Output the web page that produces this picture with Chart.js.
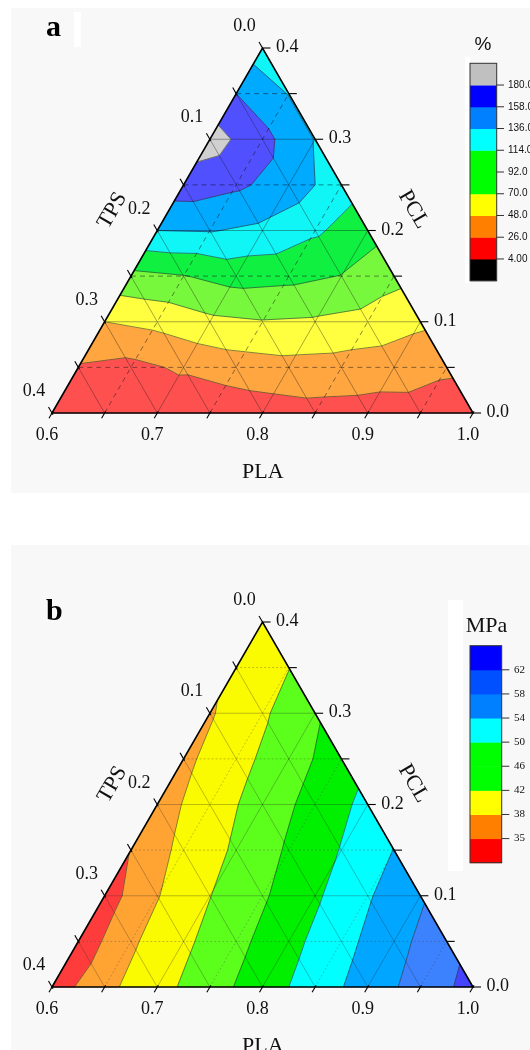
<!DOCTYPE html>
<html><head><meta charset="utf-8">
<script src="https://cdn.jsdelivr.net/npm/chart.js@4.4.1/dist/chart.umd.min.js"></script>
<style>
html,body{margin:0;padding:0;background:#fff;}
#wrap{position:relative;width:530px;height:1050px;overflow:hidden;}
canvas{position:absolute;left:0;}
</style></head><body>
<div id="wrap">
<canvas id="ca" width="530" height="525" style="top:0"></canvas>
<canvas id="cb" width="530" height="525" style="top:525px"></canvas>
</div>
<script>
// ---------- DATA ----------
// mesh rows: PCL = pclSteps[k]; within a row PLA = 0.60 + 0.05*m (TPS = 1 - PLA - PCL)
const pclSteps = [0, 0.05, 0.10, 0.15, 0.20, 0.25, 0.30, 0.35, 0.40];
const plaStart = 0.6, plaStep = 0.05;

// panel a: elongation at break (%)
const elongationRows = [
  [10, 12, 10, 9, 15.2, 18.8, 17.6, 17.9, 16],
  [24, 20.1, 29.3, 37.2, 40.9, 39.3, 35.8, 29.1],
  [48, 54.3, 65, 68.8, 67, 61.8, 52.4],
  [85.9, 91.1, 100.5, 98, 91.3, 76.5],
  [136, 137.2, 131.1, 117.5, 100],
  [170, 162, 148, 124],
  [190, 165, 135],
  [158, 135],
  [124]
];
const elongationLevels = [4, 26, 48, 70, 92, 114, 136, 158, 180];
const elongationBarLabels = ['4.00', '26.0', '48.0', '70.0', '92.0', '114.0', '136.0', '158.0', '180.0'];
const elongationFill = ['#000000', '#ff5050', '#ffa640', '#ffff40', '#78f83c', '#10f040', '#10f5f5', '#00aaff', '#5050ff', '#d0d0d0'];
const elongationBar = ['#000000', '#ff0000', '#ff8000', '#ffff00', '#00ff00', '#00ff00', '#00ffff', '#0080ff', '#0000ff', '#c0c0c0'];

// panel b: tensile strength (MPa)
const strengthRows = [
  [33.5, 37.0, 40.6, 44.3, 48.1, 51.9, 55.8, 59.6, 63.4],
  [33.1, 37.4, 41.2, 44.9, 48.8, 52.7, 56.7, 60.6],
  [33.6, 37.8, 41.9, 45.5, 49.4, 53.6, 57.5],
  [35.1, 38.9, 42.6, 46.5, 50.2, 54.1],
  [36.3, 40, 43.7, 47.4, 51.1],
  [37.1, 40.7, 44.3, 48],
  [37.6, 41.4, 45.5],
  [39, 41.9],
  [40]
];
const strengthLevels = [35, 38, 42, 46, 50, 54, 58, 62];
const strengthBarLabels = ['35', '38', '42', '46', '50', '54', '58', '62'];
const strengthFill = ['#ff3c3c', '#ffa333', '#fafa00', '#5cff1c', '#00f000', '#00ffff', '#00a6ff', '#3c82ff', '#4444ff'];
const strengthBar = ['#ff0000', '#ff8000', '#ffff00', '#00ff00', '#00ff00', '#00ffff', '#0080ff', '#0050ff', '#0000ff'];

// axis tick labels
const plaTickValues = [0.6, 0.7, 0.8, 0.9, 1.0];
const plaTickLabels = ['0.6', '0.7', '0.8', '0.9', '1.0'];
const tpsTickValues = [0, 0.1, 0.2, 0.3, 0.4];
const tpsTickLabels = ['0.0', '0.1', '0.2', '0.3', '0.4'];
const pclTickValues = [0, 0.1, 0.2, 0.3, 0.4];
const pclTickLabels = ['0.0', '0.1', '0.2', '0.3', '0.4'];
const minorStep = 0.05;

// ---------- GEOMETRY ----------
function ternXY(pla, pcl) {
  const wR = (pla - plaStart) / 0.4, wA = pcl / 0.4;
  return { x: wR + 0.5 * wA, y: wA };
}

function buildMesh(rows) {
  const grid = rows.map((row, k) => row.map((z, m) => {
    const p = ternXY(plaStart + plaStep * m, pclSteps[k]);
    return { x: p.x, y: p.y, z: z };
  }));
  const tris = [];
  for (let k = 0; k < rows.length - 1; k++) {
    const n = rows[k].length;
    for (let m = 0; m < n - 1; m++) tris.push([grid[k][m], grid[k][m + 1], grid[k + 1][m]]);
    for (let m = 0; m < n - 2; m++) tris.push([grid[k][m + 1], grid[k + 1][m + 1], grid[k + 1][m]]);
  }
  return { grid, tris };
}

function clip(poly, level, above) {
  const out = [];
  for (let i = 0; i < poly.length; i++) {
    const a = poly[i], b = poly[(i + 1) % poly.length];
    const ain = above ? a.z >= level : a.z <= level;
    const bin = above ? b.z >= level : b.z <= level;
    if (ain) out.push(a);
    if (ain !== bin) {
      const t = (level - a.z) / (b.z - a.z);
      out.push({ x: a.x + t * (b.x - a.x), y: a.y + t * (b.y - a.y), z: level });
    }
  }
  return out;
}

function makePanel(id, cfg) {
  const mesh = buildMesh(cfg.rows);
  const points = [];
  mesh.grid.forEach(r => r.forEach(n => points.push({ x: n.x, y: n.y })));

  const plugin = {
    id: 'ternary' + id,
    afterDraw(chart) {
      const ctx = chart.ctx, xs = chart.scales.x, ys = chart.scales.y;
      const P = (x, y) => [xs.getPixelForValue(x), ys.getPixelForValue(y)];
      const T = (pla, pcl) => { const d = ternXY(pla, pcl); return P(d.x, d.y); };
      ctx.save();
      // background
      ctx.fillStyle = '#ffffff'; ctx.fillRect(0, 0, 530, 525);
      ctx.fillStyle = '#f8f8f8';
      cfg.bg.forEach(r => ctx.fillRect(r[0], r[1], r[2], r[3]));
      ctx.fillStyle = '#ffffff';
      cfg.white.forEach(r => ctx.fillRect(r[0], r[1], r[2], r[3]));

      // filled bands
      const lv = cfg.levels;
      mesh.tris.forEach(tri => {
        for (let b = 0; b <= lv.length; b++) {
          let poly = tri;
          if (b > 0) poly = clip(poly, lv[b - 1], true);
          if (poly.length < 3) continue;
          if (b < lv.length) poly = clip(poly, lv[b], false);
          if (poly.length < 3) continue;
          ctx.beginPath();
          poly.forEach((q, i) => { const p = P(q.x, q.y); if (i) ctx.lineTo(p[0], p[1]); else ctx.moveTo(p[0], p[1]); });
          ctx.closePath();
          ctx.fillStyle = cfg.fill[b];
          ctx.fill();
          ctx.strokeStyle = cfg.fill[b]; ctx.lineWidth = 0.6; ctx.stroke();
        }
      });

      // contour lines
      ctx.strokeStyle = 'rgba(40,40,40,0.75)'; ctx.lineWidth = 0.75;
      lv.forEach(L => {
        mesh.tris.forEach(tri => {
          const pts = [];
          for (let i = 0; i < 3; i++) {
            const a = tri[i], b = tri[(i + 1) % 3];
            const za = a.z === L ? a.z + 1e-6 : a.z, zb = b.z === L ? b.z + 1e-6 : b.z;
            if ((za - L) * (zb - L) < 0) {
              const t = (L - za) / (zb - za);
              pts.push(P(a.x + t * (b.x - a.x), a.y + t * (b.y - a.y)));
            }
          }
          if (pts.length === 2) {
            ctx.beginPath(); ctx.moveTo(pts[0][0], pts[0][1]); ctx.lineTo(pts[1][0], pts[1][1]); ctx.stroke();
          }
        });
      });

      // grid
      const line = (a, b, dashed) => {
        ctx.beginPath();
        ctx.setLineDash(dashed ? cfg.dash : []);
        ctx.strokeStyle = dashed ? cfg.dashColor : cfg.gridColor;
        ctx.lineWidth = dashed ? cfg.dashWidth : 0.9;
        ctx.moveTo(a[0], a[1]); ctx.lineTo(b[0], b[1]); ctx.stroke();
      };
      for (let i = 1; i < 8; i++) {
        const v = i * minorStep, dashed = i % 2 === 1;
        line(T(plaStart, v), T(1 - v, v), dashed);              // PCL constant
        const p = plaStart + v;
        line(T(p, 0), T(p, 1 - p), dashed);                     // PLA constant
        line(T(1 - v, 0), T(plaStart, 0.4 - v), false);         // TPS constant (solid)
      }
      ctx.setLineDash([]);

      // border
      const BL = T(0.6, 0), BR = T(1, 0), AP = T(0.6, 0.4);
      ctx.beginPath(); ctx.moveTo(BL[0], BL[1]); ctx.lineTo(BR[0], BR[1]); ctx.lineTo(AP[0], AP[1]); ctx.closePath();
      ctx.strokeStyle = '#000'; ctx.lineWidth = 1.6; ctx.stroke();

      // ticks
      const norm = (a, b) => { const dx = b[0] - a[0], dy = b[1] - a[1], l = Math.hypot(dx, dy); return [dx / l, dy / l]; };
      const dBottom = norm(AP, BL), dLeft = norm(BR, AP), dRight = [1, 0];
      ctx.strokeStyle = '#000'; ctx.lineWidth = 1.1;
      const tick = (p, d, a, b) => { ctx.beginPath(); ctx.moveTo(p[0] + d[0] * a, p[1] + d[1] * a); ctx.lineTo(p[0] + d[0] * b, p[1] + d[1] * b); ctx.stroke(); };
      for (let i = 0; i <= 8; i++) {
        const v = i * minorStep;
        tick(T(plaStart + v, 0), dBottom, -2, 6);
        tick(T(plaStart, 0.4 - v), dLeft, -2, 7);
        tick(T(1 - v, v), dRight, 0, 8);
      }

      // tick labels
      ctx.fillStyle = '#111';
      ctx.font = '18px "Liberation Serif", "DejaVu Serif", serif';
      ctx.textBaseline = 'middle';
      ctx.textAlign = 'center';
      plaTickValues.forEach((v, i) => { const p = T(v, 0); ctx.fillText(plaTickLabels[i], p[0] - 5, p[1] + 22); });
      tpsTickValues.forEach((v, i) => { const p = T(plaStart, 0.4 - v); ctx.fillText(tpsTickLabels[i], p[0] - 18, p[1] - 21.5); });
      ctx.textAlign = 'left';
      pclTickValues.forEach((v, i) => { const p = T(1 - v, v); ctx.fillText(pclTickLabels[i], p[0] + 13.5, p[1] - 0.5); });

      // axis titles
      const top = chart.chartArea.top;
      ctx.font = '22px "Liberation Serif", serif';
      ctx.textAlign = 'center';
      ctx.fillText('PLA', 262.8, top + 424.4);
      ctx.save(); ctx.translate(112.4, top + 162.5); ctx.rotate(-Math.PI / 3); ctx.fillText('TPS', 0, 0); ctx.restore();
      ctx.save(); ctx.translate(413.3, top + 161.6); ctx.rotate(Math.PI / 3); ctx.fillText('PCL', 0, 0); ctx.restore();

      // panel letter
      ctx.textBaseline = 'alphabetic'; ctx.textAlign = 'left';
      ctx.font = 'bold 30px "Liberation Serif", serif';
      ctx.fillStyle = '#000';
      ctx.fillText(cfg.letter, cfg.letterPos[0], cfg.letterPos[1]);

      // colour bar
      const cb = cfg.bar, nb = cfg.barColors.length, h = (cb.bottom - cb.top) / nb;
      cfg.barColors.forEach((c, i) => {
        ctx.fillStyle = c;
        ctx.fillRect(cb.left, cb.bottom - (i + 1) * h, cb.right - cb.left, h + 0.5);
      });
      ctx.strokeStyle = '#333'; ctx.lineWidth = 1;
      ctx.strokeRect(cb.left, cb.top, cb.right - cb.left, cb.bottom - cb.top);
      ctx.fillStyle = '#111';
      ctx.font = cfg.barFont; ctx.textBaseline = 'middle'; ctx.textAlign = 'left';
      cfg.barLabels.forEach((t, i) => {
        const y = cb.bottom - (i + 1) * h;
        ctx.beginPath(); ctx.moveTo(cb.right, y); ctx.lineTo(cb.tickEnd, y); ctx.strokeStyle = '#333'; ctx.stroke();
        ctx.fillText(t, cb.labelX, y);
      });
      ctx.font = cfg.unitFont; ctx.textAlign = cfg.unitAlign; ctx.textBaseline = 'alphabetic';
      ctx.fillText(cfg.unit, cfg.unitPos[0], cfg.unitPos[1]);
      ctx.restore();
    }
  };

  return new Chart(document.getElementById(id), {
    type: 'scatter',
    data: { datasets: [{ data: points, pointRadius: 0, showLine: false }] },
    options: {
      responsive: false, animation: false, devicePixelRatio: 1, events: [],
      layout: { padding: cfg.padding },
      plugins: { legend: { display: false }, tooltip: { enabled: false } },
      scales: {
        x: { type: 'linear', min: 0, max: 1, display: false },
        y: { type: 'linear', min: 0, max: 1, display: false }
      }
    },
    plugins: [plugin]
  });
}

makePanel('ca', {
  rows: elongationRows, levels: elongationLevels, fill: elongationFill,
  barColors: elongationBar, barLabels: elongationBarLabels,
  padding: { left: 52, right: 57, top: 48, bottom: 112 },
  bg: [[11, 8, 519, 485]], white: [[74, 12, 7, 35], [465, 57, 5, 226]],
  gridColor: 'rgba(0,0,0,0.38)', dashColor: 'rgba(0,0,0,0.5)', dash: [5, 4], dashWidth: 0.9,
  letter: 'a', letterPos: [46, 36],
  bar: { left: 470, right: 496.7, top: 63.3, bottom: 280.7, tickEnd: 504, labelX: 508 },
  barFont: '10px "Liberation Sans", Arial, sans-serif',
  unit: '%', unitFont: '19px "Liberation Sans", Arial, sans-serif', unitAlign: 'center', unitPos: [483, 50]
});

makePanel('cb', {
  rows: strengthRows, levels: strengthLevels, fill: strengthFill,
  barColors: strengthBar, barLabels: strengthBarLabels,
  padding: { left: 52, right: 57, top: 97, bottom: 63 },
  bg: [[11, 20, 519, 505]], white: [[448, 75, 15, 271]],
  gridColor: 'rgba(0,0,0,0.28)', dashColor: 'rgba(0,0,0,0.28)', dash: [2, 2], dashWidth: 0.8,
  letter: 'b', letterPos: [46, 95],
  bar: { left: 470, right: 501.7, top: 120.7, bottom: 337.7, tickEnd: 509.3, labelX: 514 },
  barFont: '11px "Liberation Serif", serif',
  unit: 'MPa', unitFont: '22px "Liberation Serif", serif', unitAlign: 'left', unitPos: [465.7, 106.7]
});
</script>
</body></html>
